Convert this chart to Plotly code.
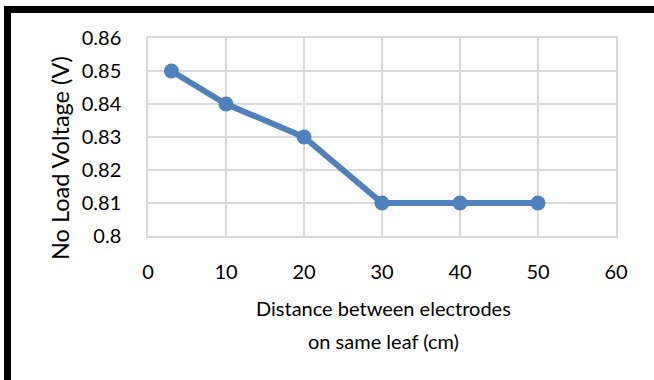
import plotly.graph_objects as go

distance_cm = [3, 10, 20, 30, 40, 50]
voltage_v = [0.85, 0.84, 0.83, 0.81, 0.81, 0.81]
x_ticks = [0, 10, 20, 30, 40, 50, 60]
y_ticks = [0.8, 0.81, 0.82, 0.83, 0.84, 0.85, 0.86]
y_tick_text = ["0.8", "0.81", "0.82", "0.83", "0.84", "0.85", "0.86"]
x_title_lines = ["Distance between electrodes", "on same leaf (cm)"]
y_title = "No Load Voltage (V)"

W, H = 654, 380
L, R, T, B = 148, 38, 38, 144
pw, ph = W - L - R, H - T - B

def px(x):
    return (x - L) / pw

def py(y):
    return (H - B - y) / ph

FONT = "Lato"
line_color = "#4F81BD"
grid = "#D9D9D9"

fig = go.Figure()
fig.add_trace(go.Scatter(
    x=distance_cm, y=voltage_v, mode="lines+markers",
    line=dict(color=line_color, width=6),
    marker=dict(color=line_color, size=15),
    showlegend=False, cliponaxis=False,
))

annotations = []
for i, txt in enumerate(x_title_lines):
    annotations.append(dict(text=txt, xref="paper", yref="paper", x=px(383),
                            y=py(308 + 33 * i), xanchor="center",
                            yanchor="middle", showarrow=False,
                            font=dict(size=20)))
annotations.append(dict(text=y_title, xref="paper", yref="paper", x=px(60),
                        y=py(158), xanchor="center", yanchor="middle",
                        showarrow=False, textangle=-90, font=dict(size=23.5)))

fig.update_layout(
    width=W, height=H,
    margin=dict(l=L, r=R, t=T, b=B),
    paper_bgcolor="white", plot_bgcolor="white",
    font=dict(family=FONT, size=20, color="#000000"),
    xaxis=dict(range=[0, 60], tickvals=x_ticks, showgrid=True, gridcolor=grid,
               gridwidth=1.5, zeroline=False, showline=True, linecolor=grid,
               linewidth=1.5, mirror=True, ticks="", ticklabelstandoff=17,
               tickfont=dict(size=20), fixedrange=True),
    yaxis=dict(range=[0.8, 0.86], tickvals=y_ticks, ticktext=y_tick_text,
               showgrid=True, gridcolor=grid, gridwidth=1.5, zeroline=False,
               showline=True, linecolor=grid, linewidth=1.5, mirror=True,
               ticks="", ticklabelstandoff=21, tickfont=dict(size=20),
               fixedrange=True),
    shapes=[dict(type="rect", xref="paper", yref="paper",
                 x0=px(7.5), x1=px(670), y0=py(9.5), y1=py(400),
                 line=dict(color="black", width=7), fillcolor="rgba(0,0,0,0)",
                 layer="below")],
    annotations=annotations,
)

fig.write_html("out.html")
